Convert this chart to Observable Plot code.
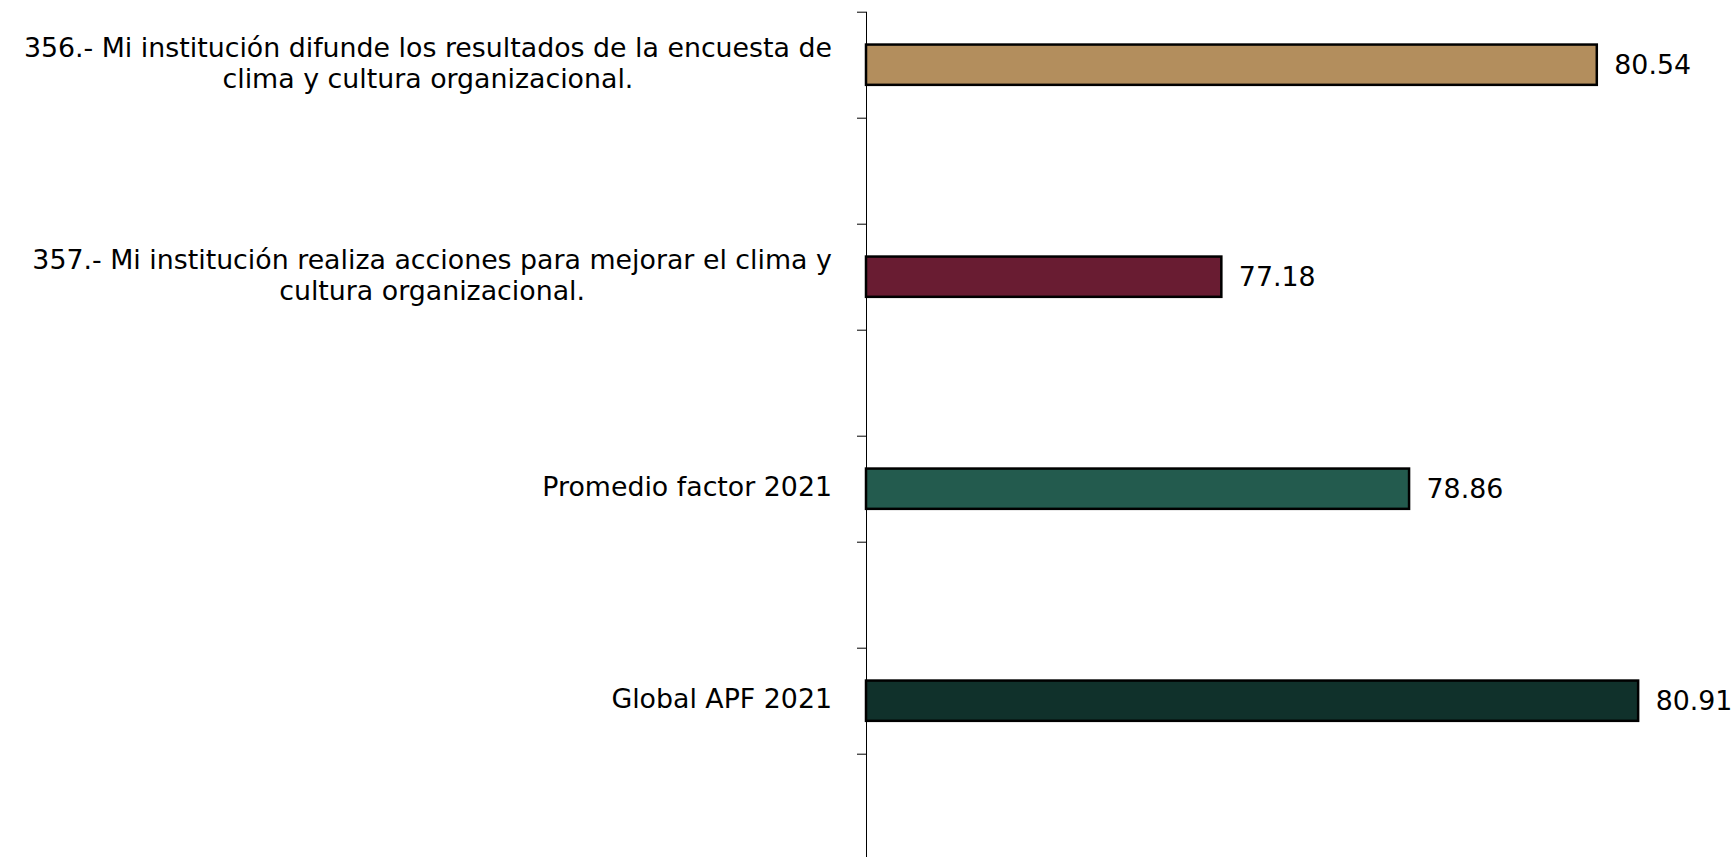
<!DOCTYPE html>
<html><head><meta charset="utf-8">
<script src="https://cdn.jsdelivr.net/npm/d3@7"></script>
<script src="https://cdn.jsdelivr.net/npm/@observablehq/plot@0.6"></script>
<style>html,body{margin:0;padding:0;background:#fff} svg{display:block}</style>
</head><body><div id="chart"></div>
<script>
const categories = [
  "356.- Mi institución difunde los resultados de la encuesta de\nclima y cultura organizacional.",
  "357.- Mi institución realiza acciones para mejorar el clima y\ncultura organizacional.",
  "Promedio factor 2021",
  "Global APF 2021"
];
const values = [80.54, 77.18, 78.86, 80.91];
const colors = ["#B38E5D", "#691C32", "#235B4E", "#10312B"];
const xMin = 74;
const xMax = 81.75;

const data = categories.map((c, i) => ({label: c, value: values[i], color: colors[i], i}));
const boundaries = d3.range(0, 8).map(k => k / 2);
const FONT = "'DejaVu Sans', sans-serif";
const FS = 26.8;

const plot = Plot.plot({
  width: 1732, height: 857,
  marginLeft: 866, marginRight: 0, marginTop: 0, marginBottom: 0,
  style: {fontFamily: FONT, background: "#fff", color: "#000"},
  x: {domain: [xMin, xMax], axis: null},
  y: {domain: [0, 4], range: [11.7, 859.7], axis: null},
  color: {type: "identity"},
  marks: [
    Plot.axisY({ticks: boundaries, tickSize: 9, tickFormat: () => "", anchor: "left", stroke: "#000", strokeOpacity: 1}),
    Plot.ruleX([xMin], {y1: 0, y2: 4, stroke: "#000", strokeWidth: 1}),
    Plot.rectX(data, {x1: xMin, x2: "value", y1: d => d.i + 0.155, y2: d => d.i + 0.345, fill: "color", stroke: "#000", strokeWidth: 2.5}),
    Plot.text(data, {x: "value", y: d => d.i + 0.25, text: d => d.value.toFixed(2), textAnchor: "start", dx: 17, fontSize: FS, fill: "#000"}),
    Plot.text(data, {x: xMin, y: d => d.i + 0.25, text: "label", textAnchor: "middle", lineAnchor: "middle", lineHeight: 1.16, dy: -3, fontSize: FS, fill: "#000", className: "cat-label"})
  ]
});
document.getElementById("chart").appendChild(plot);

// Excel-style: multi-line category labels are centred lines, right-aligned as a block next to the axis
const rightEdge = plot.scale("x").apply(xMin) - 34;
const svgLeft = plot.getBoundingClientRect().left;
plot.querySelectorAll(".cat-label text").forEach(el => {
  const r = el.getBoundingClientRect();
  const shift = rightEdge - (r.right - svgLeft);
  el.setAttribute("transform", `translate(${shift},0) ` + (el.getAttribute("transform") || ""));
});
</script>
</body></html>
